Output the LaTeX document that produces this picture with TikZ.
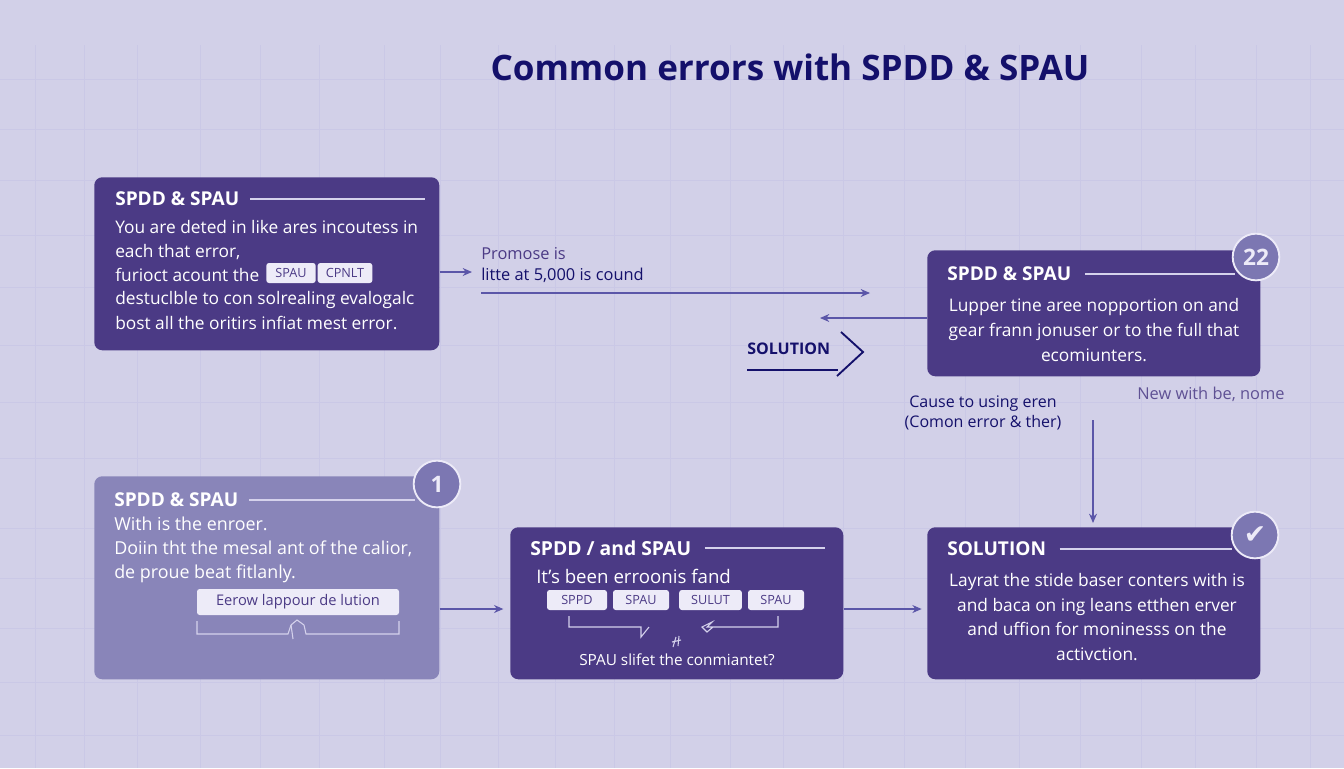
\documentclass[tikz,border=0pt]{standalone}
\usepackage{fontspec}
\setmainfont{Open Sans}
\newfontfamily\symfont{DejaVu Sans}
\usetikzlibrary{positioning,arrows.meta}
\definecolor{bgcol}{HTML}{D2D0E8}
\definecolor{gridcol}{HTML}{CAC8E6}
\definecolor{cardcol}{HTML}{4B3A85}
\definecolor{palecol}{HTML}{8985B9}
\definecolor{navycol}{HTML}{14106B}
\definecolor{linecol}{HTML}{5B56A8}
\definecolor{rulecol}{HTML}{D5D2EC}
\definecolor{chipcol}{HTML}{EDEBF8}
\definecolor{badgecol}{HTML}{7C77B2}

\begin{document}
\begin{tikzpicture}[
  x=0.75pt, y=-0.75pt,
  card/.style={fill=cardcol, rounded corners=6pt, anchor=north west, inner sep=0pt},
  hd/.style={anchor=west, text=white, font=\fontsize{14.3}{16}\selectfont\bfseries, inner sep=0pt},
  body/.style={text=white, font=\fontsize{13}{18.4}\selectfont, inner sep=0pt},
  chip/.style={fill=chipcol, rounded corners=2pt, text=cardcol, inner sep=0pt,
               font=\fontsize{9.5}{11}\selectfont, minimum height=15pt},
  badge/.style={circle, fill=badgecol, draw=chipcol, line width=1.4pt, minimum size=35pt,
                inner sep=0pt, text=chipcol, font=\fontsize{17}{20}\selectfont\bfseries},
  rule/.style={draw=rulecol, line width=0.8pt},
  arr/.style={-{Stealth[length=7pt,width=6pt]}, draw=linecol, line width=0.9pt},
  lbl/.style={anchor=west, text=navycol, inner sep=0pt, font=\fontsize{12.3}{15}\selectfont},
]
\useasboundingbox (0,0) rectangle (1344,768);
\fill[bgcol] (0,0) rectangle (1344,768);

%% Grid
\foreach \gx in {35,84,137,200,260,319,384,440,498,555,614,670,730,783,843,904,965,1019,1080,1141,1195,1256,1310}
  \draw[gridcol, line width=0.5pt] (\gx,45) -- (\gx,768);
\foreach \gy in {79,129,180,235,287,345,402,458,528,578,628,682,735}
  \draw[gridcol, line width=0.5pt] (0,\gy) -- (1344,\gy);

%% Title
\node[text=navycol, inner sep=0pt, font=\fontsize{26.3}{30}\selectfont\bfseries] (title) at (790,67)
  {Common errors with SPDD \& SPAU};

%% Cards
\node[card, minimum width=258.75pt, minimum height=129.75pt] (errA) at (94,177) {};
\node[card, minimum width=249.75pt, minimum height=94.5pt]   (errB) at (927,250) {};
\node[card, fill=palecol, minimum width=258.75pt, minimum height=152.25pt] (errC) at (94,476) {};
\node[card, minimum width=249.75pt, minimum height=114pt]    (errD) at (510,527) {};
\node[card, minimum width=249.75pt, minimum height=114pt]    (solE) at (927,527) {};

%% Top left card
\node[hd] (hdA) at (115,199) {SPDD \& SPAU};
\coordinate (hdAend) at (425,199);
\draw[rule] (hdA.east) ++(8pt,0) -- (hdAend);
\node[body, anchor=north west, align=left] (txtA) at (115,220)
  {You are deted in like ares incoutess in\\each that error,\\[16.8pt]destuclble to con solrealing evalogalc\\bost all the oritirs infiat mest error.};
\node[body, anchor=west] (txtAc) at (115,275) {furioct acount the};
\node[chip, minimum width=37pt] (chipA) at (291,273) {SPAU};
\node[chip, minimum width=41pt] (chipB) at (345,273) {CPNLT};

%% Top right card
\node[hd] (hdB) at (947,274) {SPDD \& SPAU};
\coordinate (hdBend) at (1235,274);
\draw[rule] (hdB.east) ++(10pt,0) -- (hdBend);
\node[body, align=center] (txtB) at (1094,330)
  {Lupper tine aree nopportion on and\\gear frann jonuser or to the full that\\ecomiunters.};
\node[badge] (numB) at (1256,257) {22};

%% Bottom left card
\node[hd] (hdC) at (114,500) {SPDD \& SPAU};
\coordinate (hdCend) at (415,500);
\draw[rule] (hdC.east) ++(8pt,0) -- (hdCend);
\node[body, font=\fontsize{13.4}{18}\selectfont, anchor=north west, align=left] (txtC) at (114,517)
  {With is the enroer.\\Doiin tht the mesal ant of the calior,\\de proue beat fitlanly.};
\node[chip, minimum width=151.5pt, minimum height=19.5pt, font=\fontsize{11}{12}\selectfont] (chipC) at (298,602)
  {Eerow lappour de lution};
\node[badge] (numC) at (437,484) {1};

% bracket under the chip
\coordinate (brCa) at (197,621);
\coordinate (brCb) at (399,621);
\draw[rule] (brCa) -- (197,634) -- (288,634) -- (291,625) -- (297,620) -- (304,625) -- (306,634) -- (399,634) -- (brCb);
\draw[rule] (293,639) -- (291,625);

%% Bottom middle card
\node[hd, font=\fontsize{14.5}{17}\selectfont\bfseries] (hdD) at (530,548) {SPDD / and SPAU};
\coordinate (hdDend) at (825,548);
\draw[rule] (hdD.east) ++(10pt,0) -- (hdDend);
\node[body, font=\fontsize{14}{17}\selectfont, anchor=west] (txtD) at (536,576) {It's been erroonis fand};
\node[chip, minimum width=45pt] (chipD) at (577,600) {SPPD};
\node[chip, minimum width=42pt] (chipE) at (641,600) {SPAU};
\node[chip, minimum width=47pt] (chipF) at (710.5,600) {SULUT};
\node[chip, minimum width=42pt] (chipG) at (776,600) {SPAU};
\node[body, font=\fontsize{11.5}{14}\selectfont] (txtDb) at (677,660) {SPAU slifet the conmiantet?};

% small brackets under the chips
\coordinate (markL) at (641,637);
\coordinate (markR) at (707,627);
\draw[rule] (569,616) -- (569,627) -- (641,627) -- (markL) -- (649,627);
\draw[rule] (778,616) -- (778,627) -- (markR) -- (712,622) -- (702,627) -- (707,632) -- (713,627);
\draw[rule] (676,637) -- (673,647) (679,636) -- (678,646) (672,642) -- (681,640);

%% Bottom right card
\node[hd] (hdE) at (947,549) {SOLUTION};
\coordinate (hdEend) at (1232,549);
\draw[rule] (hdE.east) ++(10pt,0) -- (hdEend);
\node[body, align=center] (txtE) at (1097,617)
  {Layrat the stide baser conters with is\\and baca on ing leans etthen erver\\and uffion for moninesss on the\\activction.};
\node[badge, font=\fontsize{20}{22}\selectfont\symfont] (okE) at (1255,535) {✔};

%% Free labels
\node[lbl, text=cardcol] (lblA) at (481,254) {Promose is};
\node[lbl] (lblB) at (481,275) {litte at 5,000 is cound};
\node[lbl, font=\fontsize{12}{14.5}\selectfont, anchor=center, align=center] (lblC) at (983,413)
  {Cause to using eren\\(Comon error \& ther)};
\node[lbl, text=cardcol!85!bgcol] (lblD) at (1137,394) {New with be, nome};
\node[lbl, font=\fontsize{12}{14}\selectfont\bfseries] (lblS) at (747,349) {SOLUTION};

%% Connectors
\coordinate (outA)  at (472,272);
\coordinate (longA) at (481,293);
\coordinate (longB) at (870,293);
\coordinate (backA) at (820,318);
\coordinate (downA) at (1093,420);
\coordinate (solA)  at (747,370);
\coordinate (solB)  at (838,370);
\coordinate (rowY)  at (0,609);

% card A -> promise label
\draw[arr] (errA.east |- outA) -- (outA);
\draw[arr] (longA) -- (longB);
% card B -> back arrow
\draw[arr] (errB.west |- backA) -- (backA);
% solution marker
\draw[navycol, line width=1.4pt] (solA) -- (solB);
\draw[navycol, line width=1.4pt] (841,332) -- (863,352) -- (837,376);
% cause -> solution card
\draw[arr, shorten >=3pt] (downA) -- (downA |- solE.north);
% bottom row
\draw[arr, shorten >=5pt] (errC.east |- rowY) -- (errD.west |- rowY);
\draw[arr, shorten >=4pt] (errD.east |- rowY) -- (solE.west |- rowY);

\end{tikzpicture}
\end{document}
